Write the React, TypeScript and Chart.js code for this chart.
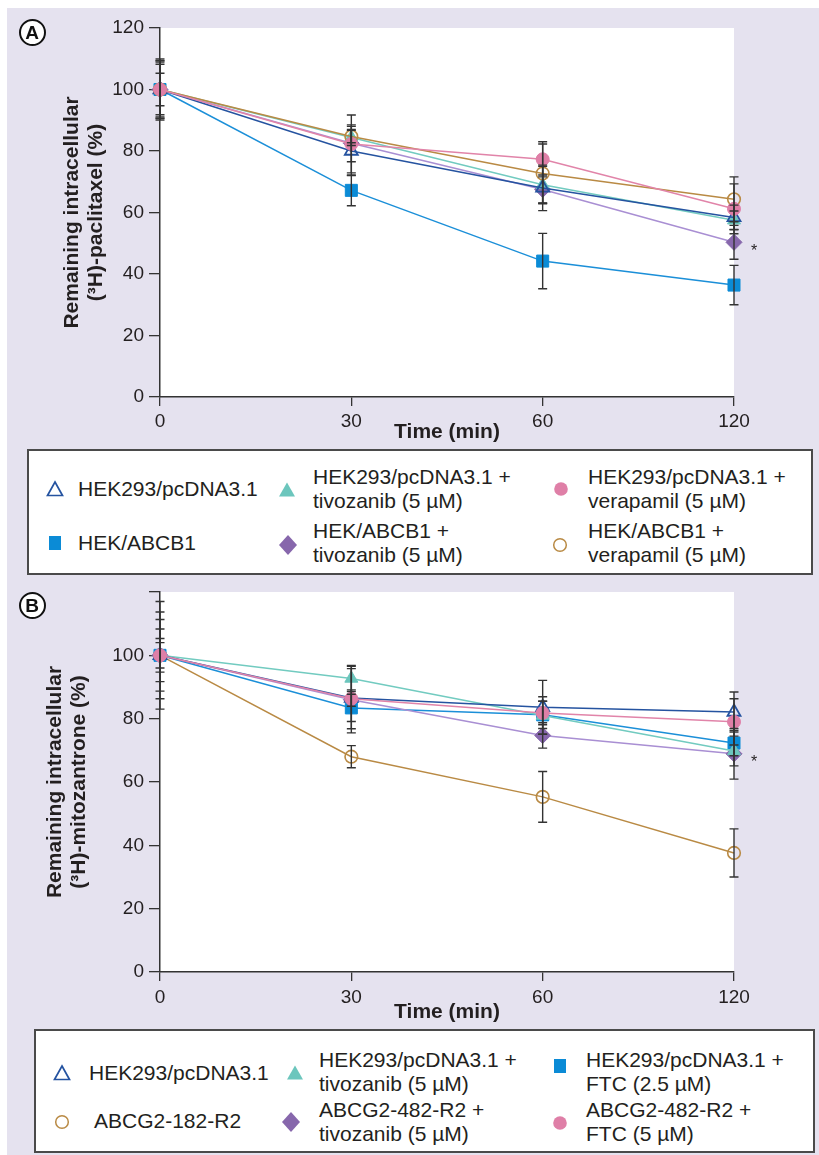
import React, { useEffect, useRef } from 'react';
import { Chart, registerables } from 'chart.js';

Chart.register(...registerables);

const FONT = "'Liberation Sans', Arial, Helvetica, sans-serif";
const LAV = '#e5e2ef';
const TXT = '#231f20';

// ---------- shared ----------
const timeLabels = ['0', '30', '60', '120'];
const xTitle = 'Time (min)';

// ---------- Panel A : (3H)-paclitaxel ----------
const aYTitle = ['Remaining intracellular', '(³H)-paclitaxel (%)'];
const aNames = [
  'HEK293/pcDNA3.1',
  'HEK/ABCB1',
  'HEK293/pcDNA3.1 + tivozanib (5 µM)',
  'HEK/ABCB1 + tivozanib (5 µM)',
  'HEK293/pcDNA3.1 + verapamil (5 µM)',
  'HEK/ABCB1 + verapamil (5 µM)',
];
const aPcdna = [100, 80.0, 68.0, 58.4];
const aPcdnaErr = [9.9, 8.0, 7.4, 4.0];
const aAbcb1 = [100, 67.2, 44.2, 36.4];
const aAbcb1Err = [9.4, 5.0, 9.0, 6.4];
const aPcdnaTivo = [100, 84.4, 69.0, 57.5];
const aPcdnaTivoErr = [5.3, 2.6, 6.0, 3.0];
const aAbcb1Tivo = [100, 82.5, 67.5, 50.3];
const aAbcb1TivoErr = [8.9, 6.0, 4.7, 5.5];
const aPcdnaVera = [100, 82.3, 77.3, 61.2];
const aPcdnaVeraErr = [9.3, 9.4, 5.7, 8.1];
const aAbcb1Vera = [100, 84.7, 72.7, 64.3];
const aAbcb1VeraErr = [8.2, 2.0, 9.6, 7.3];

// ---------- Panel B : (3H)-mitozantrone ----------
const bYTitle = ['Remaining intracellular', '(³H)-mitozantrone (%)'];
const bNames = [
  'HEK293/pcDNA3.1',
  'HEK293/pcDNA3.1 + tivozanib (5 µM)',
  'HEK293/pcDNA3.1 + FTC (2.5 µM)',
  'ABCG2-182-R2',
  'ABCG2-482-R2 + tivozanib (5 µM)',
  'ABCG2-482-R2 + FTC (5 µM)',
];
const bPcdna = [100, 86.5, 83.6, 82.1];
const bPcdnaErr = [4.0, 2.6, 8.5, 6.3];
const bPcdnaTivo = [100, 92.7, 81.0, 69.8];
const bPcdnaTivoErr = [8.3, 4.1, 5.9, 4.7];
const bPcdnaFtc = [100, 83.4, 81.2, 72.3];
const bPcdnaFtcErr = [5.3, 4.3, 4.3, 4.0];
const bAbcg2 = [100, 68.0, 55.3, 37.6];
const bAbcg2Err = [13.7, 3.5, 8.0, 7.6];
const bAbcg2Tivo = [100, 86.0, 74.7, 68.9];
const bAbcg2TivoErr = [17.0, 10.5, 4.0, 8.0];
const bAbcg2Ftc = [100, 86.3, 81.8, 79.0];
const bAbcg2FtcErr = [11.3, 9.5, 3.7, 7.3];

// legend text lines
const aLegendLines = [
  ['HEK293/pcDNA3.1'],
  ['HEK/ABCB1'],
  ['HEK293/pcDNA3.1 +', 'tivozanib (5 µM)'],
  ['HEK/ABCB1 +', 'tivozanib (5 µM)'],
  ['HEK293/pcDNA3.1 +', 'verapamil (5 µM)'],
  ['HEK/ABCB1 +', 'verapamil (5 µM)'],
];
const bLegendLines = [
  ['HEK293/pcDNA3.1'],
  ['HEK293/pcDNA3.1 +', 'tivozanib (5 µM)'],
  ['HEK293/pcDNA3.1 +', 'FTC (2.5 µM)'],
  ['ABCG2-182-R2'],
  ['ABCG2-482-R2 +', 'tivozanib (5 µM)'],
  ['ABCG2-482-R2 +', 'FTC (5 µM)'],
];

// ---------- styles ----------
type Sty = { ps: string; r: number; line: string; stroke: string; fill: string; bw: number };
const S: Record<string, Sty> = {
  openTri: { ps: 'triangle', r: 7.5, line: '#2553a0', stroke: '#2553a0', fill: 'rgba(255,255,255,0)', bw: 1.8 },
  square: { ps: 'rect', r: 8.5, line: '#1b8fd8', stroke: '#0b8bd6', fill: '#0b8bd6', bw: 1 },
  tealTri: { ps: 'triangle', r: 7.5, line: '#72cbc0', stroke: '#6cc6bd', fill: '#6cc6bd', bw: 1 },
  diamond: { ps: 'rectRot', r: 8, line: '#a98fd3', stroke: '#8767ac', fill: '#8767ac', bw: 1 },
  pink: { ps: 'circle', r: 6.5, line: '#e184a9', stroke: '#df7fa7', fill: '#df7fa7', bw: 1 },
  openCirc: { ps: 'circle', r: 6.3, line: '#b98a44', stroke: '#b98a44', fill: 'rgba(255,255,255,0)', bw: 1.6 },
};

function ds(name: string, data: number[], errors: number[], st: Sty, order: number) {
  return {
    label: name,
    data,
    errors,
    borderColor: st.line,
    backgroundColor: st.fill,
    borderWidth: 1.5,
    pointStyle: st.ps,
    pointRadius: st.r,
    pointHoverRadius: st.r,
    pointBorderColor: st.stroke,
    pointBackgroundColor: st.fill,
    pointBorderWidth: st.bw,
    tension: 0,
    clip: false,
    order,
  };
}

const decorPlugin = {
  id: 'decor',
  beforeDraw(chart: any) {
    const { ctx, chartArea: a } = chart;
    ctx.save();
    ctx.fillStyle = '#ffffff';
    ctx.fillRect(a.left, a.top, a.right - a.left, a.bottom - a.top);
    ctx.restore();
  },
  afterDatasetsDraw(chart: any, _args: any, opts: any) {
    const { ctx } = chart;
    const x = chart.scales.x;
    const y = chart.scales.y;
    ctx.save();
    ctx.strokeStyle = '#333333';
    ctx.lineWidth = 1.4;
    chart.data.datasets.forEach((d: any) => {
      const errs: number[] = d.errors;
      if (!errs) return;
      d.data.forEach((v: number, j: number) => {
        const px = x.getPixelForValue(j);
        const yt = y.getPixelForValue(v + errs[j]);
        const yb = y.getPixelForValue(v - errs[j]);
        ctx.beginPath();
        ctx.moveTo(px, yt);
        ctx.lineTo(px, yb);
        ctx.moveTo(px - 4.5, yt);
        ctx.lineTo(px + 4.5, yt);
        ctx.moveTo(px - 4.5, yb);
        ctx.lineTo(px + 4.5, yb);
        ctx.stroke();
      });
    });
    if (opts && opts.starIndex != null) {
      const d = chart.data.datasets[opts.starIndex];
      const last = d.data.length - 1;
      ctx.fillStyle = TXT;
      ctx.font = `16px ${FONT}`;
      ctx.textAlign = 'center';
      ctx.textBaseline = 'middle';
      ctx.fillText('*', x.getPixelForValue(last) + 20, y.getPixelForValue(d.data[last]) + 9);
    }
    ctx.restore();
  },
};

type PanelSpec = {
  datasets: any[];
  yTitle: string[];
  padTop: number;
  xHeight: number;
  xTickPad: number;
  yTitleX: number;
  hide120: boolean;
  starIndex: number;
};

function buildConfig(p: PanelSpec): any {
  return {
    type: 'line',
    data: { labels: timeLabels, datasets: p.datasets },
    options: {
      animation: false,
      responsive: false,
      maintainAspectRatio: false,
      events: [],
      layout: { padding: { top: p.padTop, right: 85, left: 0, bottom: 0 } },
      plugins: {
        legend: { display: false },
        tooltip: { enabled: false },
        decor: { starIndex: p.starIndex },
      },
      scales: {
        x: {
          type: 'category',
          offset: false,
          grid: { drawOnChartArea: false, drawTicks: true, tickLength: 9, color: '#333333', lineWidth: 1.3, offset: false },
          border: { display: true, color: '#333333', width: 1.5 },
          ticks: { color: TXT, font: { family: FONT, size: 19 }, padding: p.xTickPad, maxRotation: 0, autoSkip: false },
          title: {
            display: true,
            text: xTitle,
            color: TXT,
            font: { family: FONT, size: 21, weight: 'bold', lineHeight: 24 / 21 },
            padding: { top: 0, bottom: 1 },
          },
          afterFit: (s: any) => {
            s.height = p.xHeight;
          },
        },
        y: {
          type: 'linear',
          min: 0,
          max: 120,
          grid: { drawOnChartArea: false, drawTicks: true, tickLength: 11, color: '#333333', lineWidth: 1.3 },
          border: { display: true, color: '#333333', width: 1.5 },
          ticks: {
            stepSize: 20,
            color: TXT,
            font: { family: FONT, size: 19 },
            padding: 5,
            callback: (v: any) => (p.hide120 && v === 120 ? '' : String(v)),
          },
          title: {
            display: true,
            text: p.yTitle,
            color: TXT,
            font: { family: FONT, size: 21, weight: 'bold', lineHeight: 24.5 / 21 },
            padding: { top: p.yTitleX - 12.25, bottom: 0 },
          },
          afterFit: (s: any) => {
            s.width = 160;
          },
        },
      },
    },
    plugins: [decorPlugin],
  };
}

const specA: PanelSpec = {
  datasets: [
    ds(aNames[4], aPcdnaVera, aPcdnaVeraErr, S.pink, 0),
    ds(aNames[5], aAbcb1Vera, aAbcb1VeraErr, S.openCirc, 1),
    ds(aNames[2], aPcdnaTivo, aPcdnaTivoErr, S.tealTri, 3),
    ds(aNames[0], aPcdna, aPcdnaErr, S.openTri, 2),
    ds(aNames[3], aAbcb1Tivo, aAbcb1TivoErr, S.diamond, 4),
    ds(aNames[1], aAbcb1, aAbcb1Err, S.square, 5),
  ],
  yTitle: aYTitle,
  padTop: 28,
  xHeight: 48,
  xTickPad: 4,
  yTitleX: 72,
  hide120: false,
  starIndex: 4,
};

const specB: PanelSpec = {
  datasets: [
    ds(bNames[5], bAbcg2Ftc, bAbcg2FtcErr, S.pink, 0),
    ds(bNames[0], bPcdna, bPcdnaErr, S.openTri, 1),
    ds(bNames[4], bAbcg2Tivo, bAbcg2TivoErr, S.diamond, 3),
    ds(bNames[1], bPcdnaTivo, bPcdnaTivoErr, S.tealTri, 2),
    ds(bNames[2], bPcdnaFtc, bPcdnaFtcErr, S.square, 4),
    ds(bNames[3], bAbcg2, bAbcg2Err, S.openCirc, 5),
  ],
  yTitle: bYTitle,
  padTop: 32,
  xHeight: 53,
  xTickPad: 5,
  yTitleX: 55,
  hide120: true,
  starIndex: 2,
};

function PanelChart({ spec, left, top, width, height }: { spec: PanelSpec; left: number; top: number; width: number; height: number }) {
  const ref = useRef<HTMLCanvasElement>(null);
  useEffect(() => {
    const chart = new Chart(ref.current as HTMLCanvasElement, buildConfig(spec));
    return () => chart.destroy();
  }, []);
  return (
    <canvas
      ref={ref}
      width={width}
      height={height}
      style={{ position: 'absolute', left, top, width, height }}
    />
  );
}

function PanelLetter({ letter, cx, cy }: { letter: string; cx: number; cy: number }) {
  return (
    <div
      style={{
        position: 'absolute',
        left: cx - 13.5,
        top: cy - 13.5,
        width: 27,
        height: 27,
        boxSizing: 'border-box',
        border: '2.5px solid #111',
        borderRadius: '50%',
        background: '#fff',
        display: 'flex',
        alignItems: 'center',
        justifyContent: 'center',
        fontFamily: FONT,
        fontWeight: 'bold',
        fontSize: 19,
        color: '#111',
        lineHeight: 1,
      }}
    >
      {letter}
    </div>
  );
}

function Marker({ kind, cx, cy }: { kind: string; cx: number; cy: number }) {
  let shape: any = null;
  if (kind === 'openTri')
    shape = <polygon points="12,5 19.5,18.5 4.5,18.5" fill="none" stroke="#2553a0" strokeWidth={1.7} />;
  else if (kind === 'tealTri') shape = <polygon points="12,4.5 20,18.5 4,18.5" fill="#6cc6bd" />;
  else if (kind === 'square') shape = <rect x={6} y={5} width={12} height={14} fill="#0b8bd6" />;
  else if (kind === 'diamond') shape = <polygon points="12,2 21,12 12,22 3,12" fill="#8767ac" />;
  else if (kind === 'pink') shape = <circle cx={12} cy={12} r={6.8} fill="#df7fa7" />;
  else if (kind === 'openCirc') shape = <circle cx={12} cy={12} r={6.3} fill="none" stroke="#b98a44" strokeWidth={1.5} />;
  return (
    <svg width={24} height={24} style={{ position: 'absolute', left: cx - 12, top: cy - 12 }}>
      {shape}
    </svg>
  );
}

function LegendText({ lines, left, firstCenter, lh }: { lines: string[]; left: number; firstCenter: number; lh: number }) {
  return (
    <div
      style={{
        position: 'absolute',
        left,
        top: firstCenter - lh / 2,
        fontFamily: FONT,
        fontSize: 21,
        lineHeight: `${lh}px`,
        color: TXT,
        whiteSpace: 'nowrap',
      }}
    >
      {lines.map((l, i) => (
        <div key={i}>{l}</div>
      ))}
    </div>
  );
}

function Box({ left, top, width, height }: { left: number; top: number; width: number; height: number }) {
  return (
    <div
      style={{
        position: 'absolute',
        left,
        top,
        width,
        height,
        boxSizing: 'border-box',
        border: '2px solid #4a4a4a',
        background: '#fff',
      }}
    />
  );
}

export default function App() {
  return (
    <div style={{ position: 'absolute', left: 0, top: 0, width: 819, height: 1155, background: '#fff', overflow: 'hidden' }}>
      <div style={{ position: 'absolute', left: 7, top: 8, width: 812, height: 1147, background: LAV }} />

      {/* Panel A */}
      <PanelChart spec={specA} left={0} top={0} width={819} height={445} />
      <PanelLetter letter="A" cx={32} cy={32} />
      <Box left={27} top={449} width={786} height={126} />
      <Marker kind="openTri" cx={55} cy={489} />
      <LegendText lines={aLegendLines[0]} left={78} firstCenter={489} lh={24} />
      <Marker kind="square" cx={55} cy={543} />
      <LegendText lines={aLegendLines[1]} left={78} firstCenter={543} lh={24} />
      <Marker kind="tealTri" cx={287} cy={490} />
      <LegendText lines={aLegendLines[2]} left={313} firstCenter={477} lh={24} />
      <Marker kind="diamond" cx={288} cy={545} />
      <LegendText lines={aLegendLines[3]} left={313} firstCenter={531} lh={24} />
      <Marker kind="pink" cx={561} cy={489} />
      <LegendText lines={aLegendLines[4]} left={588} firstCenter={477} lh={24} />
      <Marker kind="openCirc" cx={560} cy={545} />
      <LegendText lines={aLegendLines[5]} left={588} firstCenter={531} lh={24} />

      {/* Panel B */}
      <PanelChart spec={specB} left={0} top={560} width={819} height={465} />
      <PanelLetter letter="B" cx={32} cy={605} />
      <Box left={34} top={1029} width={781} height={124} />
      <Marker kind="openTri" cx={62} cy={1073} />
      <LegendText lines={bLegendLines[0]} left={89} firstCenter={1073} lh={23.5} />
      <Marker kind="tealTri" cx={295} cy={1073} />
      <LegendText lines={bLegendLines[1]} left={319} firstCenter={1060} lh={23.5} />
      <Marker kind="square" cx={560} cy={1066} />
      <LegendText lines={bLegendLines[2]} left={586} firstCenter={1060} lh={23.5} />
      <Marker kind="openCirc" cx={62} cy={1122} />
      <LegendText lines={bLegendLines[3]} left={94} firstCenter={1121} lh={23.5} />
      <Marker kind="diamond" cx={291} cy={1122} />
      <LegendText lines={bLegendLines[4]} left={319} firstCenter={1110} lh={23.5} />
      <Marker kind="pink" cx={560} cy={1123} />
      <LegendText lines={bLegendLines[5]} left={586} firstCenter={1110} lh={23.5} />
    </div>
  );
}
